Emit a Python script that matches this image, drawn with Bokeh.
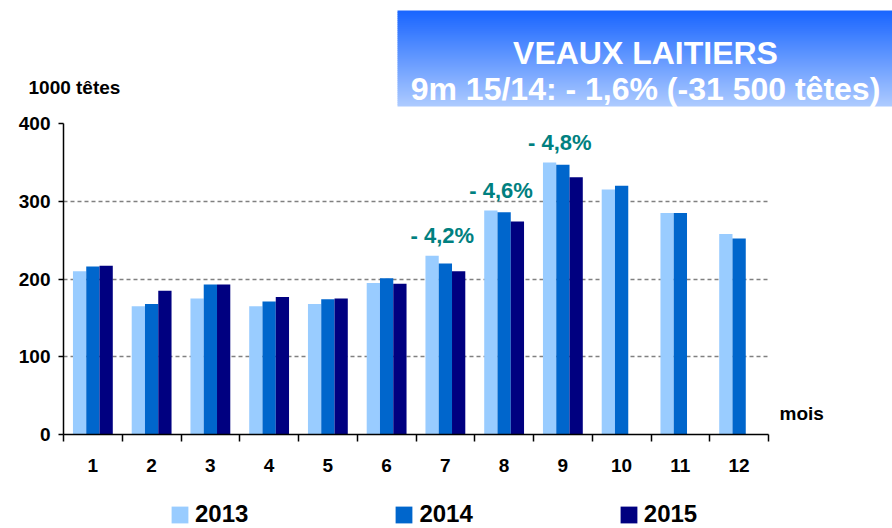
import numpy as np
from bokeh.plotting import figure
from bokeh.layouts import column
from bokeh.models import (ColumnDataSource, FixedTicker, Range1d, LinearAxis,
                          Legend, LegendItem)
from bokeh.transform import dodge
from bokeh.core.properties import value
from bokeh.embed import file_html
from bokeh.resources import INLINE

# ---------------- data ----------------
months = list(range(1, 13))
month_labels = [str(m) for m in months]
v2013 = [210, 165, 175, 165, 168, 195, 230, 288, 350, 315, 285, 258]
v2014 = [216, 168, 193, 171, 174, 201, 220, 286, 347, 320, 285, 252]
v2015 = [217, 185, 193, 177, 175, 194, 210, 274, 331]
years = ["2013", "2014", "2015"]
colors = ["#99CCFF", "#0066CC", "#000080"]
pct_months = [7, 8, 9]
pct_labels = ["- 4,2%", "- 4,6%", "- 4,8%"]
y_ticks = [0, 100, 200, 300, 400]
title_lines = ["VEAUX LAITIERS", "9m 15/14: - 1,6% (-31 500 têtes)"]
y_title = "1000 têtes"
x_title = "mois"

FONT = "Liberation Sans"
W_PAGE = 892

# ---------------- top strip: title box + y unit ----------------
TOP_H = 110
top = figure(width=W_PAGE, height=TOP_H, output_backend="svg", toolbar_location=None,
             title=None, x_range=Range1d(0, W_PAGE), y_range=Range1d(TOP_H, 0),
             x_axis_type=None, y_axis_type=None, min_border=0, frame_align=False)
top.outline_line_color = None
top.background_fill_color = "white"
top.border_fill_color = "white"

# vertical gradient box (stacked strips)
top_c = np.array([26, 102, 255])
bot_c = np.array([172, 202, 255])
bx0, bx1, by0, by1 = 397, W_PAGE + 2, 10, 106
n = 48
edges = np.linspace(by0, by1, n + 1)
tcol = np.linspace(0, 1, n)
strip_cols = ["#%02x%02x%02x" % tuple((top_c * (1 - t) + bot_c * t).round().astype(int))
              for t in tcol]
grad = ColumnDataSource(dict(left=[bx0] * n, right=[bx1] * n,
                             top=list(edges[:-1]),
                             bottom=list(np.minimum(edges[1:] + 0.6, by1)),
                             color=strip_cols))
top.quad(left="left", right="right", top="top", bottom="bottom", source=grad,
         fill_color="color", line_color=None)

ttl = ColumnDataSource(dict(x=[645, 645], y=[52, 88], t=title_lines))
top.text(x="x", y="y", text="t", source=ttl, text_font=value(FONT),
         text_font_style="bold", text_font_size="32px", text_color="white",
         text_align="center", text_baseline="alphabetic")
top.text(x=[28], y=[87], text=[y_title], text_font=value(FONT),
         text_font_style="bold", text_font_size="19px", text_color="black",
         text_align="left", text_baseline="alphabetic")

# ---------------- main chart ----------------
MAIN_H = 380
p = figure(width=W_PAGE, height=MAIN_H, output_backend="svg", toolbar_location=None,
           title=None, x_range=Range1d(0.5, 12.5), y_range=Range1d(0, 400),
           min_border_left=63, min_border_right=124,
           min_border_top=13, min_border_bottom=56)
p.outline_line_color = None
p.background_fill_color = "white"
p.border_fill_color = "white"

W = 0.226
src13 = ColumnDataSource(dict(x=months, top=v2013))
src14 = ColumnDataSource(dict(x=months, top=v2014))
src15 = ColumnDataSource(dict(x=months[:len(v2015)], top=v2015))

p.vbar(x=dodge("x", -W, range=p.x_range), top="top", width=W, source=src13,
       fill_color=colors[0], line_color=None)
p.vbar(x=dodge("x", 0, range=p.x_range), top="top", width=W, source=src14,
       fill_color=colors[1], line_color=None)
p.vbar(x=dodge("x", W, range=p.x_range), top="top", width=W, source=src15,
       fill_color=colors[2], line_color=None)

pct_src = ColumnDataSource(dict(x=pct_months, y=[v2013[m - 1] for m in pct_months],
                                t=pct_labels))
p.text(x="x", y="y", text="t", source=pct_src, x_offset=-3, y_offset=-20,
       text_font=value(FONT), text_font_style="bold", text_font_size="22px",
       text_color="#008080", text_align="center", text_baseline="middle")

xa = p.xaxis[0]
xa.ticker = FixedTicker(ticks=months,
                        minor_ticks=[m - 0.5 for m in months] + [months[-1] + 0.5])
xa.major_label_overrides = {m: lab for m, lab in zip(months, month_labels)}
xa.major_tick_line_color = None
xa.major_tick_out = 0
xa.major_tick_in = 0
xa.minor_tick_out = 7
xa.minor_tick_in = 0
xa.minor_tick_line_color = "black"
xa.minor_tick_line_width = 1.5
xa.axis_line_color = "black"
xa.axis_line_width = 1.5
xa.major_label_standoff = 17
xa.major_label_text_font = FONT
xa.major_label_text_font_style = "bold"
xa.major_label_text_font_size = "19px"
xa.major_label_text_color = "black"

ya = p.yaxis[0]
ya.ticker = FixedTicker(ticks=y_ticks)
ya.minor_tick_line_color = None
ya.major_tick_out = 5
ya.major_tick_in = 0
ya.major_tick_line_color = "black"
ya.major_tick_line_width = 1.5
ya.axis_line_color = "black"
ya.axis_line_width = 1.5
ya.major_label_standoff = 8
ya.major_label_text_font = FONT
ya.major_label_text_font_style = "bold"
ya.major_label_text_font_size = "19px"
ya.major_label_text_color = "black"

# "mois" as a label-only axis on the right
MOIS_AT = 27
ra = LinearAxis(ticker=FixedTicker(ticks=[MOIS_AT]),
                major_label_overrides={MOIS_AT: x_title},
                axis_line_color=None, major_tick_line_color=None,
                minor_tick_line_color=None, major_tick_out=0, major_tick_in=0,
                major_label_standoff=11, major_label_text_font=FONT,
                major_label_text_font_style="bold", major_label_text_font_size="19px",
                major_label_text_color="black")
p.add_layout(ra, "right")

p.xgrid.visible = False
p.ygrid.grid_line_color = "#808080"
p.ygrid.grid_line_dash = "4 3"
p.ygrid.grid_line_width = 1.5

# ---------------- legend strip ----------------
LEG_H = 528 - TOP_H - MAIN_H
lg = figure(width=W_PAGE, height=LEG_H, output_backend="svg", toolbar_location=None,
            title=None, x_range=Range1d(0, W_PAGE), y_range=Range1d(0, LEG_H),
            x_axis_type=None, y_axis_type=None, min_border=0, frame_align=False)
lg.outline_line_color = None
lg.background_fill_color = "white"
lg.border_fill_color = "white"
# zero-height proxy bars that only carry the legend swatches
leg_renderers = [lg.vbar(x=[0], top=[0], bottom=[0], width=1, fill_color=c,
                         line_color=None) for c in colors]
legend = Legend(items=[LegendItem(label=yr, renderers=[r])
                       for yr, r in zip(years, leg_renderers)],
                location=(169, 0), orientation="horizontal",
                padding=0, margin=0, spacing=145,
                glyph_width=21, glyph_height=21, label_standoff=5,
                label_text_font=FONT, label_text_font_style="bold",
                label_text_font_size="24px", label_text_color="black",
                border_line_color=None, background_fill_alpha=0)
lg.add_layout(legend)

layout = column(top, p, lg, spacing=0)
open("out.html", "w").write(file_html(layout, INLINE))
